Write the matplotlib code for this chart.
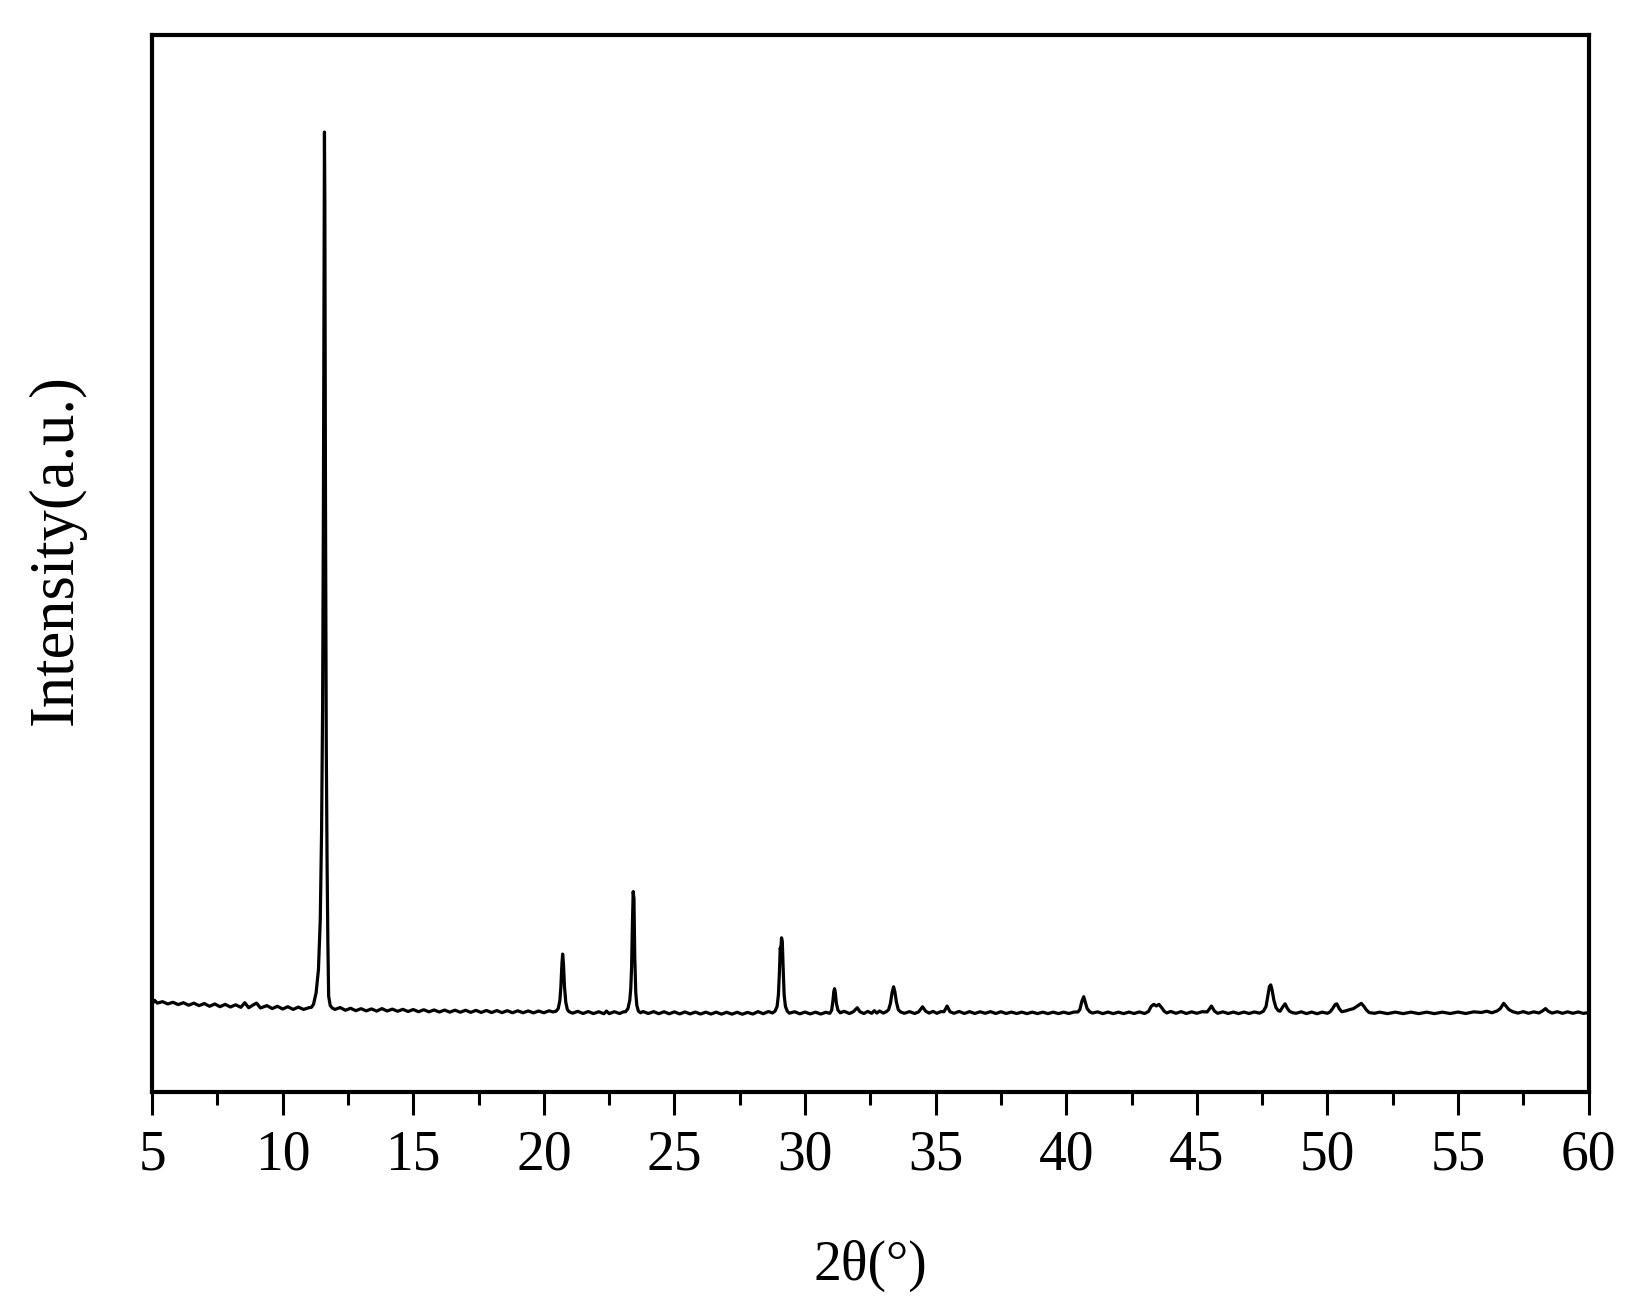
import matplotlib
matplotlib.use("Agg")
import matplotlib.pyplot as plt
import numpy as np
from matplotlib.ticker import MultipleLocator

plt.rcParams["font.family"] = ["Liberation Serif", "DejaVu Serif"]

# XRD pattern (2theta in degrees, intensity in arbitrary counts)
two_theta = [
    # 5 - 11 baseline
    5.0, 5.1, 5.2, 5.4, 5.6, 5.8, 6.0, 6.2, 6.4, 6.6, 6.8, 7.0, 7.2, 7.4, 7.6, 7.8,
    8.0, 8.2, 8.4, 8.55, 8.7, 8.85, 9.0, 9.15, 9.4, 9.6, 9.8, 10.0, 10.2, 10.4,
    10.6, 10.8, 11.0,
    # main reflection ~11.6
    11.1, 11.18, 11.28, 11.37, 11.44, 11.49, 11.53, 11.56, 11.59, 11.6, 11.615,
    11.64, 11.67, 11.70, 11.73, 11.76, 11.82, 11.9,
    # 12 - 20.4
    12.0, 12.2, 12.4, 12.6, 12.8, 13.0, 13.2, 13.4, 13.6, 13.8, 14.0, 14.2, 14.4,
    14.6, 14.8, 15.0, 15.2, 15.4, 15.6, 15.8, 16.0, 16.2, 16.4, 16.6, 16.8, 17.0,
    17.2, 17.4, 17.6, 17.8, 18.0, 18.2, 18.4, 18.6, 18.8, 19.0, 19.2, 19.4, 19.6,
    19.8, 20.0, 20.2, 20.35,
    # ~20.7
    20.47, 20.55, 20.61, 20.65, 20.69, 20.72, 20.75, 20.79, 20.84, 20.9, 20.97,
    21.1, 21.3, 21.5, 21.7, 21.9, 22.1, 22.3, 22.4, 22.5, 22.7, 22.9, 23.05,
    # ~23.4
    23.13, 23.22, 23.29, 23.33, 23.36, 23.39, 23.42, 23.45, 23.48, 23.52, 23.56,
    23.62, 23.7,
    23.8, 24.0, 24.2, 24.4, 24.6, 24.8, 25.0, 25.2, 25.4, 25.6, 25.8, 26.0, 26.2,
    26.4, 26.6, 26.8, 27.0, 27.2, 27.4, 27.6, 27.8, 28.0, 28.2, 28.4, 28.6, 28.75,
    # ~29.1
    28.85, 28.93, 28.98, 29.02, 29.05, 29.07, 29.1, 29.13, 29.16, 29.2, 29.25,
    29.32, 29.4,
    29.6, 29.8, 30.0, 30.2, 30.4, 30.6, 30.8, 30.95,
    # ~31.1
    31.02, 31.07, 31.1, 31.13, 31.16, 31.2, 31.26, 31.35,
    31.5, 31.7, 31.85, 32.0, 32.1, 32.25, 32.4, 32.55, 32.65, 32.75, 32.85, 33.0,
    33.12,
    # ~33.4
    33.2, 33.27, 33.33, 33.39, 33.44, 33.5, 33.57, 33.66,
    33.8, 34.0, 34.2, 34.35, 34.5, 34.62, 34.75, 34.9, 35.05, 35.2, 35.32, 35.44,
    35.55, 35.7, 35.9, 36.1, 36.3, 36.5, 36.7, 36.9, 37.1, 37.3, 37.5, 37.7, 37.9,
    38.1, 38.3, 38.5, 38.7, 38.9, 39.1, 39.3, 39.5, 39.7, 39.9, 40.1, 40.3, 40.45,
    # ~40.7
    40.52, 40.6, 40.67, 40.73, 40.8, 40.9, 41.0,
    41.2, 41.4, 41.6, 41.8, 42.0, 42.2, 42.4, 42.6, 42.8, 43.0, 43.15, 43.25,
    43.35, 43.45, 43.55, 43.65, 43.75, 43.85, 44.0, 44.2, 44.4, 44.6, 44.8, 45.0,
    45.2, 45.4, 45.56, 45.68, 45.8, 46.0, 46.2, 46.4, 46.6, 46.8, 47.0, 47.2, 47.4,
    47.55,
    # ~47.8
    47.65, 47.72, 47.78, 47.83, 47.88, 47.95, 48.03, 48.12, 48.19, 48.3, 48.38,
    48.47, 48.55, 48.65,
    48.8, 49.0, 49.2, 49.4, 49.6, 49.8, 50.0, 50.1,
    # ~50.4 / 51.3
    50.2, 50.3, 50.36, 50.45, 50.55, 50.7, 50.85, 51.0, 51.15, 51.3, 51.4, 51.5,
    51.6, 51.8,
    52.0, 52.3, 52.6, 52.9, 53.2, 53.5, 53.8, 54.1, 54.4, 54.7, 55.0, 55.3, 55.6,
    55.9, 56.1, 56.3, 56.5, 56.62, 56.75, 56.85, 56.95, 57.1, 57.3, 57.5, 57.7,
    57.9, 58.1, 58.25, 58.35, 58.45, 58.6, 58.8, 59.0, 59.2, 59.4, 59.6, 59.8, 60.0,
]

intensity = [
    845, 878, 852, 866, 844, 860, 838, 856, 832, 852, 828, 848, 822, 844, 818, 840,
    815, 836, 812, 856, 808, 832, 852, 806, 828, 800, 822, 796, 818, 792,
    814, 792, 808,
    812, 840, 950, 1170, 1650, 2500, 3700, 5600, 8300, 9160, 8500,
    5600, 3300, 2200, 1450, 920, 830, 805,
    792, 810, 784, 803, 780, 799, 778, 797, 776, 800, 777, 795, 774,
    793, 772, 791, 770, 789, 769, 787, 767, 786, 766, 785, 765, 784,
    764, 783, 763, 782, 762, 781, 761, 780, 760, 779, 760, 778, 759,
    777, 760, 779, 768,
    775, 800, 870, 1000, 1220, 1320, 1230, 1010, 860, 790, 770,
    756, 774, 753, 772, 752, 770, 751, 776, 752, 770, 753, 769,
    770, 800, 880, 1000, 1200, 1600, 1916, 1850, 1300, 950, 830,
    775, 760,
    772, 753, 771, 751, 770, 750, 769, 749, 768, 749, 767, 748, 766,
    748, 766, 747, 765, 747, 765, 746, 764, 748, 771, 751, 772, 758,
    775, 820, 930, 1150, 1380, 1350, 1475, 1440, 1200, 930, 820,
    775, 756,
    770, 750, 767, 749, 766, 748, 765, 755,
    785, 880, 960, 990, 950, 850, 785, 760,
    774, 753, 770, 808, 770, 753, 773, 755, 780, 757, 777, 757,
    772,
    790, 850, 950, 1008, 960, 860, 790, 768,
    755, 771, 753, 769, 817, 775, 757, 773, 755, 771, 770, 824,
    770, 755, 773, 753, 771, 753, 770, 755, 771, 753, 770, 753, 767,
    753, 766, 752, 766, 752, 766, 752, 766, 752, 766, 753, 767, 768,
    790, 870, 913, 860, 800, 770, 757,
    769, 752, 767, 752, 766, 752, 767, 753, 768, 753, 772, 820,
    840, 825, 840, 810, 775, 758, 773, 755, 771, 753, 769, 755,
    770, 768, 824, 775, 755, 769, 753, 767, 752, 767, 753, 768, 756,
    775,
    820, 920, 1010, 1026, 980, 880, 810, 780, 775, 820, 845,
    800, 775, 762,
    755, 769, 752, 767, 751, 766, 755, 768,
    800, 840, 845, 800, 770, 778, 790, 800, 825, 850, 820, 785,
    762, 755,
    766, 752, 766, 752, 766, 752, 766, 752, 766, 753, 767, 753, 769,
    763, 775, 760, 778, 800, 850, 820, 790, 770, 757, 771, 755,
    769, 758, 780, 800, 775, 757, 770, 755, 769, 755, 768, 754, 762,
]

x_ticks = [5, 10, 15, 20, 25, 30, 35, 40, 45, 50, 55, 60]


def main():
    fig = plt.figure(figsize=(16.44, 13.14), dpi=100)
    ax = fig.add_axes([0.0925, 0.1686, 0.8738, 0.8051])

    ax.plot(two_theta, intensity, color="black", lw=2.3)

    ax.set_xlim(5, 60)
    ax.set_ylim(0, 10090)
    ax.set_xticks(x_ticks)
    ax.xaxis.set_minor_locator(MultipleLocator(2.5))
    ax.set_yticks([])

    for sp in ax.spines.values():
        sp.set_linewidth(3.0)

    ax.tick_params(axis="x", which="major", direction="out", length=16.5,
                   width=2.2, labelsize=40, pad=10)
    ax.tick_params(axis="x", which="minor", direction="out", length=9.5,
                   width=2.2)

    ax.set_xlabel("2θ(°)", fontsize=40, labelpad=42)
    ax.set_ylabel("Intensity(a.u.)", fontsize=45)
    ax.yaxis.set_label_coords(-0.046, 0.513)

    fig.savefig("out.png", dpi=100)


if __name__ == "__main__":
    main()
